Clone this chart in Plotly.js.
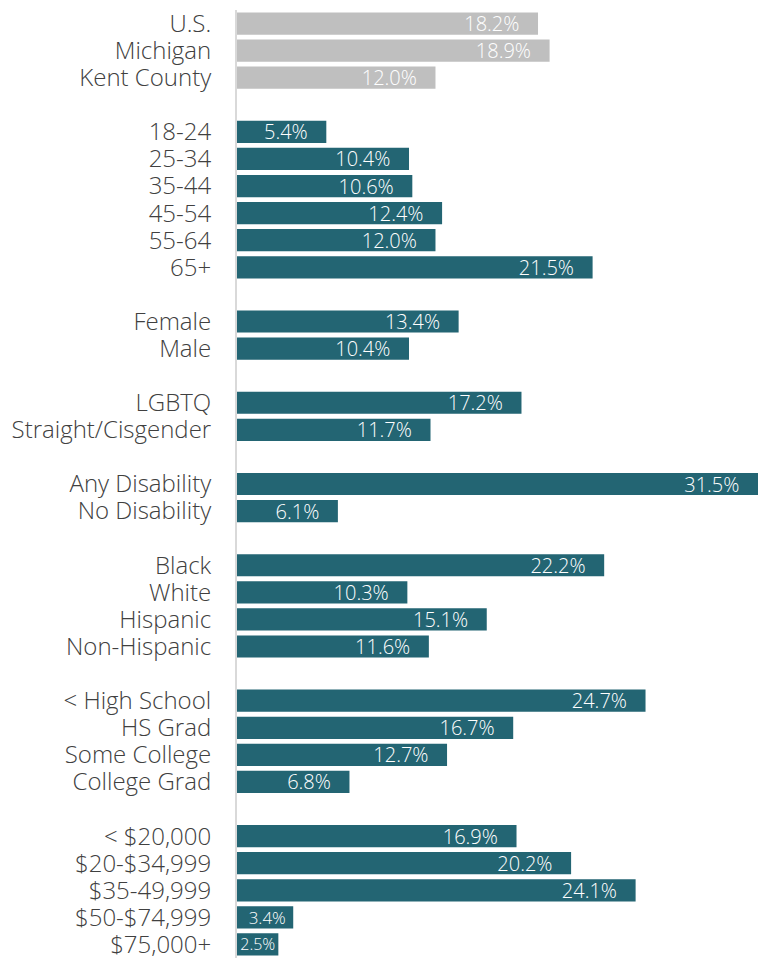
<!DOCTYPE html>
<html>
<head>
<meta charset="utf-8">
<script src="https://cdn.plot.ly/plotly-3.0.1.min.js"></script>
<style>html,body{margin:0;padding:0;background:#fff}#chart{width:764px;height:958px}</style>
</head>
<body>
<div id="chart"></div>
<script>
// Categories (blank entries are group separators)
const categories = [
  "U.S.", "Michigan", "Kent County", " ",
  "18-24", "25-34", "35-44", "45-54", "55-64", "65+", "  ",
  "Female", "Male", "   ",
  "LGBTQ", "Straight/Cisgender", "    ",
  "Any Disability", "No Disability", "     ",
  "Black", "White", "Hispanic", "Non-Hispanic", "      ",
  "< High School", "HS Grad", "Some College", "College Grad", "       ",
  "< $20,000", "$20-$34,999", "$35-49,999", "$50-$74,999", "$75,000+"
];
const values = [
  18.2, 18.9, 12.0, null,
  5.4, 10.4, 10.6, 12.4, 12.0, 21.5, null,
  13.4, 10.4, null,
  17.2, 11.7, null,
  31.5, 6.1, null,
  22.2, 10.3, 15.1, 11.6, null,
  24.7, 16.7, 12.7, 6.8, null,
  16.9, 20.2, 24.1, 3.4, 2.5
];
const benchmarkCats = ["U.S.", "Michigan", "Kent County"];

const FONT = "'Open Sans', 'Noto Sans', sans-serif";
const colors = categories.map(c => benchmarkCats.includes(c) ? "#BFBFBF" : "#236573");
// labels sit inside the bar end with a small gap; very short bars get a smaller gap and font
const labels = values.map(v => v == null ? "" : (v >= 5 ? v.toFixed(1) + "%\u00a0\u00a0\u00a0" : (v >= 3 ? v.toFixed(1) + "%\u00a0" : v.toFixed(1) + "%")));
const labelSizes = values.map(v => v == null ? 20 : (v < 3 ? 16 : (v < 5 ? 17 : 20)));

const trace = {
  type: "bar",
  orientation: "h",
  y: categories,
  x: values,
  marker: {color: colors},
  text: labels,
  textposition: "inside",
  insidetextanchor: "end",
  constraintext: "none",
  textangle: 0,
  textfont: {family: FONT, size: labelSizes, color: "#ffffff", weight: 300},
  hoverinfo: "none",
  cliponaxis: false
};

const layout = {
  width: 764, height: 958,
  margin: {l: 237, r: 6, t: 10, b: 0},
  paper_bgcolor: "#ffffff", plot_bgcolor: "#ffffff",
  bargap: 0.18,
  showlegend: false,
  xaxis: {range: [0, 31.5], showgrid: false, zeroline: false, showticklabels: false, showline: false, fixedrange: true},
  yaxis: {
    type: "category",
    autorange: "reversed",
    tickmode: "array",
    tickvals: categories,
    ticktext: categories,
    showgrid: false, zeroline: false,
    showline: true, linecolor: "#D9D9D9", linewidth: 2,
    ticks: "", ticklabelstandoff: 19,
    tickfont: {family: FONT, size: 24, color: "#404040", weight: 300}
  }
};

Plotly.newPlot("chart", [trace], layout, {staticPlot: true, displayModeBar: false});
</script>
</body>
</html>
